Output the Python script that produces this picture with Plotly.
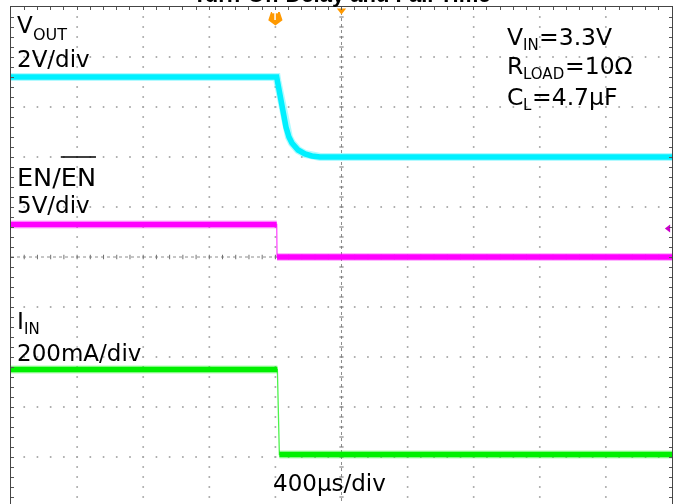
import plotly.graph_objects as go

# ---------------- data (read from the scope shot) ----------------
# time in microseconds, trigger at t = 0
t_vout_us = [-1600, 8, 12, 22, 34, 46, 64, 82, 100, 137, 179, 221, 270, 2400]
vout_v = [3.2, 3.2, 3.05, 2.68, 2.28, 1.88, 1.2, 0.8, 0.56, 0.28, 0.12, 0.04, 0.0, 0.0]

t_en_us = [-1600, 8, 10, 2400]
en_v = [3.25, 3.25, 0.0, 0.0]

t_iin_us = [-1600, 12, 24, 2400]
iin_a = [0.35, 0.35, 0.01, 0.01]

# channel settings: (scale per div, ground offset in divisions)
VOUT_SCALE, VOUT_OFFSET = 2.0, 2.0      # 2V/div
EN_SCALE, EN_OFFSET = 5.0, 0.0          # 5V/div
IIN_SCALE, IIN_OFFSET = 0.2, -4.0       # 200mA/div
TIME_PER_DIV = 400                      # 400us/div
T_START, T_END = -1600, 2400
TRIG_T = 0
TRIG_LEVEL_V = 2.85

COL_VOUT = "#00F0FF"
COL_EN = "#FF00FF"
COL_IIN = "#00F000"

# ---------------- helpers ----------------
def to_div(vals, scale, offset):
    return [offset + v / scale for v in vals]

def split_steep(t, y, max_slope=0.05):
    xs, ys = [t[0]], [y[0]]
    for i in range(1, len(t)):
        if abs(y[i] - y[i - 1]) / (t[i] - t[i - 1]) > max_slope:
            xs.append(None)
            ys.append(None)
        xs.append(t[i])
        ys.append(y[i])
    return xs, ys

fig = go.Figure()

# ---------------- graticule ----------------
minor_t = [T_START + k * TIME_PER_DIV / 5 for k in range(1, 50)]
minor_y = [round(-5 + k * 0.2, 2) for k in range(1, 50)]
major_t = [T_START + k * TIME_PER_DIV for k in range(1, 10)]
center_t = T_START + 5 * TIME_PER_DIV
gx, gy = [], []
for mt in major_t:
    if mt == center_t:
        continue
    for yy in minor_y:
        gx.append(mt); gy.append(yy)
for yy in [-4, -3, -2, -1, 1, 2, 3, 4]:
    for tt in minor_t:
        gx.append(tt); gy.append(yy)
fig.add_trace(go.Scatter(x=gx, y=gy, mode="markers",
                         marker=dict(size=2, color="#A8A8A8", line=dict(width=0)),
                         hoverinfo="skip", showlegend=False))
# center cross lines
fig.add_trace(go.Scatter(x=[center_t, center_t], y=[-5, 5], mode="lines",
                         line=dict(color="#8C8C8C", width=1, dash="dot"),
                         hoverinfo="skip", showlegend=False))
fig.add_trace(go.Scatter(x=[T_START, T_END], y=[0, 0], mode="lines",
                         line=dict(color="#8C8C8C", width=1, dash="dot"),
                         hoverinfo="skip", showlegend=False))
tx, ty = [], []
for yy in minor_y:
    tx += [center_t - 13, center_t + 13, None]; ty += [yy, yy, None]
for tt in minor_t:
    tx += [tt, tt, None]; ty += [-0.045, 0.045, None]
fig.add_trace(go.Scatter(x=tx, y=ty, mode="lines",
                         line=dict(color="#707070", width=1),
                         hoverinfo="skip", showlegend=False))

# ---------------- waveforms ----------------
def add_channel(t, vals, scale, offset, color, thin):
    yd = to_div(vals, scale, offset)
    if thin:
        fig.add_trace(go.Scatter(x=t, y=yd, mode="lines",
                                 line=dict(color=color, width=1.3),
                                 opacity=0.7, hoverinfo="skip", showlegend=False))
        xs, ys = split_steep(t, yd)
    else:
        xs, ys = t, yd
    fig.add_trace(go.Scatter(x=xs, y=ys, mode="lines",
                             line=dict(color=color, width=8),
                             opacity=0.3, hoverinfo="skip", showlegend=False))
    fig.add_trace(go.Scatter(x=xs, y=ys, mode="lines",
                             line=dict(color=color, width=5.5),
                             hoverinfo="skip", showlegend=False))

add_channel(t_vout_us, vout_v, VOUT_SCALE, VOUT_OFFSET, COL_VOUT, False)
add_channel(t_en_us, en_v, EN_SCALE, EN_OFFSET, COL_EN, True)
add_channel(t_iin_us, iin_a, IIN_SCALE, IIN_OFFSET, COL_IIN, True)

# ---------------- scope markers ----------------
fig.add_trace(go.Scatter(x=[TRIG_T], y=[4.78], mode="markers",
                         marker=dict(symbol="pentagon", angle=180, size=15, color="#FF9900"),
                         hoverinfo="skip", showlegend=False, cliponaxis=False))
fig.add_trace(go.Scatter(x=[center_t], y=[4.93], mode="markers",
                         marker=dict(symbol="triangle-down", size=8, color="#FF9900"),
                         hoverinfo="skip", showlegend=False, cliponaxis=False))
fig.add_trace(go.Scatter(x=[T_END - 22], y=[EN_OFFSET + TRIG_LEVEL_V / EN_SCALE], mode="markers",
                         marker=dict(symbol="triangle-left", size=7, color="#CC00CC"),
                         hoverinfo="skip", showlegend=False, cliponaxis=False))

# ---------------- text ----------------
PL, PT, PW, PH = 11, 7, 661, 497
def px(x):
    return (x - PL) / PW
def py(y):
    return (PT + PH - y) / PH

LF = "DejaVu Sans"
# DejaVu Sans advance widths (em) for the glyphs used
W = {"V": .684, "E": .632, "N": .748, "/": .337, "I": .295, "R": .695, "C": .698,
     "O": .787, "U": .732, "T": .611, "L": .557, "A": .684, "D": .770}
def width(s, size):
    return sum(W[c] for c in s) * size

ann = []
def piece(text, xl, ymid, size, weight="normal"):
    # xl: left edge of the glyphs (px), ymid: middle of the capitals (px)
    ann.append(dict(text=text, x=px(xl - 2), y=py(ymid), xref="paper", yref="paper",
                    xanchor="left", yanchor="middle", showarrow=False,
                    font=dict(family=LF, size=size, color="#000000", weight=weight)))

def subbed(main, sub, rest, xl, ymid, size, sub_size, sub_dy):
    piece(main, xl, ymid, size)
    x2 = xl + width(main, size)
    piece(sub, x2, ymid + sub_dy, sub_size)
    if rest:
        x3 = x2 + width(sub, sub_size)
        piece(rest, x3, ymid, size)

# left channel labels
LS, LSUB = 23, 16
subbed("V", "OUT", "", 17, 25, LS, LSUB, 9)
piece("2V/div", 17, 59, LS)
ENS = 25.5
piece("EN/EN", 17, 177, ENS)
ov_x0 = 17 + width("EN/", ENS)
ov_x1 = 17 + width("EN/EN", ENS)
piece("5V/div", 17, 205, LS)
subbed("I", "IN", "", 17, 321, 23.5, 15, 7.5)
piece("200mA/div", 17, 353, LS)
piece("400µs/div", 273, 482.5, LS)

# right condition labels
RS, RSUB = 23.5, 15
subbed("V", "IN", "=3.3V", 507, 36.5, RS, RSUB, 8)
subbed("R", "LOAD", "=10Ω", 507, 66.5, RS, RSUB, 8)
subbed("C", "L", "=4.7µF", 507, 97, RS, RSUB, 8)

ann.append(dict(text="T", x=TRIG_T, y=4.81, xref="x", yref="y", showarrow=False,
                font=dict(family="Liberation Sans", size=10, color="#FFFFFF", weight="bold"),
                xanchor="center", yanchor="middle"))
ann.append(dict(text="Turn-Off Delay and Fall Time", x=px(341), y=py(9.5),
                xref="paper", yref="paper", xanchor="center", yanchor="bottom",
                showarrow=False,
                font=dict(family="Liberation Sans", size=22, color="#000000", weight="bold")))

shapes = [dict(type="line", xref="paper", yref="paper", x0=px(ov_x0), x1=px(ov_x1),
               y0=py(157), y1=py(157), line=dict(color="#000000", width=1.5))]

fig.update_layout(
    width=678, height=504,
    margin=dict(l=PL, r=678 - PL - PW, t=PT, b=0, pad=0),
    paper_bgcolor="#FFFFFF", plot_bgcolor="#FFFFFF",
    annotations=ann, shapes=shapes, showlegend=False,
    xaxis=dict(range=[T_START, T_END], side="top", showgrid=False, zeroline=False,
               showline=True, linecolor="#444444", linewidth=1, mirror=False,
               ticks="inside", tick0=T_START, dtick=TIME_PER_DIV / 5, ticklen=3,
               tickcolor="#555555", showticklabels=False, fixedrange=True),
    yaxis=dict(range=[-4.94, 5], showgrid=False, zeroline=False,
               showline=True, linecolor="#444444", linewidth=1, mirror="allticks",
               ticks="inside", tick0=0, dtick=0.2, ticklen=3,
               tickcolor="#555555", showticklabels=False, fixedrange=True),
)

fig.write_html("out.html")
